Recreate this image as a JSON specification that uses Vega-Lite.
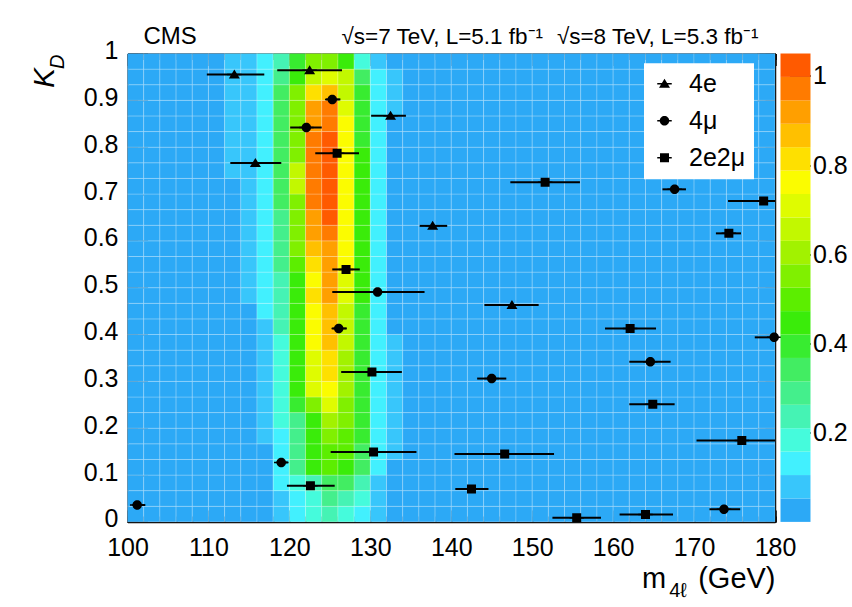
{
  "$schema": "https://vega.github.io/schema/vega-lite/v6.json",
  "padding": {"left": 28.5, "top": 24.5, "right": 0, "bottom": 0},
  "background": "white",
  "bounds": "flush",
  "spacing": 5,
  "config": {
    "font": "Liberation Sans",
    "view": {"stroke": null},
    "axis": {"grid": false, "zindex": 1, "tickColor": "black", "domainColor": "black", "labelColor": "black", "titleColor": "black", "labelFlush": false, "labelOverlap": false, "labelFontWeight": "normal", "titleFontWeight": "normal"}
  },
  "datasets": {
    "cells": [
      {"m": 100, "r": [0,1,2,3,4,5,6,7,8,9,10,11,12,13,14,15,16,17,18,19,20,21,22,23,24,25,26,27,28,29], "z": [0.03,0.03,0.03,0.03,0.03,0.03,0.03,0.03,0.03,0.03,0.03,0.03,0.03,0.03,0.03,0.03,0.03,0.03,0.03,0.03,0.03,0.03,0.03,0.03,0.03,0.03,0.03,0.03,0.03,0.03]},
      {"m": 102, "r": [0,1,2,3,4,5,6,7,8,9,10,11,12,13,14,15,16,17,18,19,20,21,22,23,24,25,26,27,28,29], "z": [0.03,0.03,0.03,0.03,0.03,0.03,0.03,0.03,0.03,0.03,0.03,0.03,0.03,0.03,0.03,0.03,0.03,0.03,0.03,0.03,0.03,0.03,0.03,0.03,0.03,0.03,0.03,0.03,0.03,0.03]},
      {"m": 104, "r": [0,1,2,3,4,5,6,7,8,9,10,11,12,13,14,15,16,17,18,19,20,21,22,23,24,25,26,27,28,29], "z": [0.03,0.03,0.03,0.03,0.03,0.03,0.03,0.03,0.03,0.03,0.03,0.03,0.03,0.03,0.03,0.03,0.03,0.03,0.03,0.03,0.03,0.03,0.03,0.03,0.03,0.03,0.03,0.03,0.03,0.03]},
      {"m": 106, "r": [0,1,2,3,4,5,6,7,8,9,10,11,12,13,14,15,16,17,18,19,20,21,22,23,24,25,26,27,28,29], "z": [0.03,0.03,0.03,0.03,0.03,0.03,0.03,0.03,0.03,0.03,0.03,0.03,0.03,0.03,0.03,0.03,0.03,0.03,0.03,0.03,0.03,0.03,0.03,0.03,0.03,0.03,0.03,0.03,0.03,0.03]},
      {"m": 108, "r": [0,1,2,3,4,5,6,7,8,9,10,11,12,13,14,15,16,17,18,19,20,21,22,23,24,25,26,27,28,29], "z": [0.03,0.03,0.03,0.03,0.03,0.03,0.03,0.03,0.03,0.03,0.03,0.03,0.03,0.03,0.03,0.03,0.03,0.03,0.03,0.03,0.03,0.03,0.03,0.03,0.03,0.03,0.03,0.03,0.03,0.03]},
      {"m": 110, "r": [0,1,2,3,4,5,6,7,8,9,10,11,12,13,14,15,16,17,18,19,20,21,22,23,24,25,26,27,28,29], "z": [0.03,0.03,0.03,0.03,0.03,0.03,0.03,0.03,0.03,0.03,0.03,0.03,0.03,0.03,0.03,0.03,0.03,0.03,0.03,0.03,0.03,0.03,0.03,0.03,0.03,0.03,0.03,0.03,0.03,0.03]},
      {"m": 112, "r": [0,1,2,3,4,5,6,7,8,9,10,11,12,13,14,15,16,17,18,19,20,21,22,23,24,25,26,27,28,29], "z": [0.03,0.03,0.03,0.03,0.03,0.03,0.03,0.03,0.03,0.03,0.03,0.03,0.03,0.03,0.03,0.03,0.03,0.03,0.03,0.03,0.03,0.03,0.08,0.08,0.08,0.08,0.08,0.08,0.08,0.08]},
      {"m": 114, "r": [0,1,2,3,4,5,6,7,8,9,10,11,12,13,14,15,16,17,18,19,20,21,22,23,24,25,26,27,28,29], "z": [0.03,0.03,0.03,0.03,0.03,0.03,0.03,0.03,0.03,0.03,0.03,0.03,0.03,0.03,0.08,0.08,0.08,0.08,0.08,0.08,0.08,0.08,0.08,0.08,0.08,0.08,0.08,0.08,0.08,0.08]},
      {"m": 116, "r": [0,1,2,3,4,5,6,7,8,9,10,11,12,13,14,15,16,17,18,19,20,21,22,23,24,25,26,27,28,29], "z": [0.03,0.03,0.03,0.03,0.03,0.08,0.08,0.08,0.08,0.08,0.08,0.08,0.08,0.13,0.13,0.13,0.13,0.13,0.13,0.13,0.13,0.13,0.13,0.13,0.13,0.13,0.13,0.13,0.13,0.13]},
      {"m": 118, "r": [0,1,2,3,4,5,6,7,8,9,10,11,12,13,14,15,16,17,18,19,20,21,22,23,24,25,26,27,28,29], "z": [0.08,0.08,0.13,0.13,0.13,0.13,0.18,0.18,0.18,0.18,0.18,0.18,0.24,0.24,0.24,0.24,0.29,0.29,0.29,0.29,0.34,0.34,0.34,0.34,0.34,0.34,0.34,0.34,0.29,0.24]},
      {"m": 120, "r": [0,1,2,3,4,5,6,7,8,9,10,11,12,13,14,15,16,17,18,19,20,21,22,23,24,25,26,27,28,29], "z": [0.13,0.13,0.18,0.29,0.29,0.29,0.29,0.39,0.45,0.45,0.45,0.45,0.45,0.45,0.45,0.45,0.5,0.55,0.55,0.55,0.55,0.66,0.66,0.55,0.55,0.55,0.55,0.55,0.45,0.39]},
      {"m": 122, "r": [0,1,2,3,4,5,6,7,8,9,10,11,12,13,14,15,16,17,18,19,20,21,22,23,24,25,26,27,28,29], "z": [0.18,0.18,0.24,0.45,0.45,0.45,0.45,0.55,0.71,0.71,0.71,0.76,0.76,0.76,0.81,0.76,0.81,0.87,0.92,0.92,0.97,0.97,0.97,0.97,0.97,0.92,0.92,0.81,0.66,0.55]},
      {"m": 124, "r": [0,1,2,3,4,5,6,7,8,9,10,11,12,13,14,15,16,17,18,19,20,21,22,23,24,25,26,27,28,29], "z": [0.24,0.29,0.34,0.5,0.5,0.55,0.6,0.71,0.76,0.81,0.81,0.87,0.87,0.87,0.92,0.92,0.92,0.92,0.97,1.02,1.02,1.02,1.02,1.02,1.02,0.97,0.97,0.87,0.71,0.55]},
      {"m": 126, "r": [0,1,2,3,4,5,6,7,8,9,10,11,12,13,14,15,16,17,18,19,20,21,22,23,24,25,26,27,28,29], "z": [0.18,0.24,0.34,0.45,0.5,0.5,0.55,0.55,0.6,0.6,0.6,0.66,0.66,0.66,0.71,0.71,0.76,0.76,0.76,0.76,0.76,0.76,0.76,0.76,0.76,0.76,0.71,0.66,0.66,0.45]},
      {"m": 128, "r": [0,1,2,3,4,5,6,7,8,9,10,11,12,13,14,15,16,17,18,19,20,21,22,23,24,25,26,27,28,29], "z": [0.13,0.18,0.24,0.34,0.34,0.39,0.39,0.39,0.39,0.39,0.39,0.39,0.39,0.39,0.45,0.45,0.45,0.45,0.45,0.45,0.45,0.45,0.45,0.45,0.39,0.39,0.39,0.39,0.34,0.18]},
      {"m": 130, "r": [0,1,2,3,4,5,6,7,8,9,10,11,12,13,14,15,16,17,18,19,20,21,22,23,24,25,26,27,28,29], "z": [0.08,0.08,0.08,0.13,0.13,0.13,0.13,0.13,0.13,0.13,0.13,0.13,0.13,0.13,0.13,0.13,0.13,0.13,0.13,0.13,0.13,0.13,0.13,0.13,0.13,0.13,0.13,0.13,0.13,0.08]},
      {"m": 132, "r": [0,1,2,3,4,5,6,7,8,9,10,11,12,13,14,15,16,17,18,19,20,21,22,23,24,25,26,27,28,29], "z": [0.03,0.03,0.03,0.03,0.08,0.08,0.08,0.08,0.08,0.08,0.08,0.08,0.03,0.03,0.03,0.03,0.03,0.03,0.03,0.03,0.03,0.03,0.03,0.03,0.03,0.03,0.08,0.08,0.08,0.03]},
      {"m": 134, "r": [0,1,2,3,4,5,6,7,8,9,10,11,12,13,14,15,16,17,18,19,20,21,22,23,24,25,26,27,28,29], "z": [0.03,0.03,0.03,0.03,0.03,0.03,0.03,0.03,0.03,0.03,0.03,0.03,0.03,0.03,0.03,0.03,0.03,0.03,0.03,0.03,0.03,0.03,0.03,0.03,0.03,0.03,0.03,0.03,0.03,0.03]},
      {"m": 136, "r": [0,1,2,3,4,5,6,7,8,9,10,11,12,13,14,15,16,17,18,19,20,21,22,23,24,25,26,27,28,29], "z": [0.03,0.03,0.03,0.03,0.03,0.03,0.03,0.03,0.03,0.03,0.03,0.03,0.03,0.03,0.03,0.03,0.03,0.03,0.03,0.03,0.03,0.03,0.03,0.03,0.03,0.03,0.03,0.03,0.03,0.03]},
      {"m": 138, "r": [0,1,2,3,4,5,6,7,8,9,10,11,12,13,14,15,16,17,18,19,20,21,22,23,24,25,26,27,28,29], "z": [0.03,0.03,0.03,0.03,0.03,0.03,0.03,0.03,0.03,0.03,0.03,0.03,0.03,0.03,0.03,0.03,0.03,0.03,0.03,0.03,0.03,0.03,0.03,0.03,0.03,0.03,0.03,0.03,0.03,0.03]},
      {"m": 140, "r": [0,1,2,3,4,5,6,7,8,9,10,11,12,13,14,15,16,17,18,19,20,21,22,23,24,25,26,27,28,29], "z": [0.03,0.03,0.03,0.03,0.03,0.03,0.03,0.03,0.03,0.03,0.03,0.03,0.03,0.03,0.03,0.03,0.03,0.03,0.03,0.03,0.03,0.03,0.03,0.03,0.03,0.03,0.03,0.03,0.03,0.03]},
      {"m": 142, "r": [0,1,2,3,4,5,6,7,8,9,10,11,12,13,14,15,16,17,18,19,20,21,22,23,24,25,26,27,28,29], "z": [0.03,0.03,0.03,0.03,0.03,0.03,0.03,0.03,0.03,0.03,0.03,0.03,0.03,0.03,0.03,0.03,0.03,0.03,0.03,0.03,0.03,0.03,0.03,0.03,0.03,0.03,0.03,0.03,0.03,0.03]},
      {"m": 144, "r": [0,1,2,3,4,5,6,7,8,9,10,11,12,13,14,15,16,17,18,19,20,21,22,23,24,25,26,27,28,29], "z": [0.03,0.03,0.03,0.03,0.03,0.03,0.03,0.03,0.03,0.03,0.03,0.03,0.03,0.03,0.03,0.03,0.03,0.03,0.03,0.03,0.03,0.03,0.03,0.03,0.03,0.03,0.03,0.03,0.03,0.03]},
      {"m": 146, "r": [0,1,2,3,4,5,6,7,8,9,10,11,12,13,14,15,16,17,18,19,20,21,22,23,24,25,26,27,28,29], "z": [0.03,0.03,0.03,0.03,0.03,0.03,0.03,0.03,0.03,0.03,0.03,0.03,0.03,0.03,0.03,0.03,0.03,0.03,0.03,0.03,0.03,0.03,0.03,0.03,0.03,0.03,0.03,0.03,0.03,0.03]},
      {"m": 148, "r": [0,1,2,3,4,5,6,7,8,9,10,11,12,13,14,15,16,17,18,19,20,21,22,23,24,25,26,27,28,29], "z": [0.03,0.03,0.03,0.03,0.03,0.03,0.03,0.03,0.03,0.03,0.03,0.03,0.03,0.03,0.03,0.03,0.03,0.03,0.03,0.03,0.03,0.03,0.03,0.03,0.03,0.03,0.03,0.03,0.03,0.03]},
      {"m": 150, "r": [0,1,2,3,4,5,6,7,8,9,10,11,12,13,14,15,16,17,18,19,20,21,22,23,24,25,26,27,28,29], "z": [0.03,0.03,0.03,0.03,0.03,0.03,0.03,0.03,0.03,0.03,0.03,0.03,0.03,0.03,0.03,0.03,0.03,0.03,0.03,0.03,0.03,0.03,0.03,0.03,0.03,0.03,0.03,0.03,0.03,0.03]},
      {"m": 152, "r": [0,1,2,3,4,5,6,7,8,9,10,11,12,13,14,15,16,17,18,19,20,21,22,23,24,25,26,27,28,29], "z": [0.03,0.03,0.03,0.03,0.03,0.03,0.03,0.03,0.03,0.03,0.03,0.03,0.03,0.03,0.03,0.03,0.03,0.03,0.03,0.03,0.03,0.03,0.03,0.03,0.03,0.03,0.03,0.03,0.03,0.03]},
      {"m": 154, "r": [0,1,2,3,4,5,6,7,8,9,10,11,12,13,14,15,16,17,18,19,20,21,22,23,24,25,26,27,28,29], "z": [0.03,0.03,0.03,0.03,0.03,0.03,0.03,0.03,0.03,0.03,0.03,0.03,0.03,0.03,0.03,0.03,0.03,0.03,0.03,0.03,0.03,0.03,0.03,0.03,0.03,0.03,0.03,0.03,0.03,0.03]},
      {"m": 156, "r": [0,1,2,3,4,5,6,7,8,9,10,11,12,13,14,15,16,17,18,19,20,21,22,23,24,25,26,27,28,29], "z": [0.03,0.03,0.03,0.03,0.03,0.03,0.03,0.03,0.03,0.03,0.03,0.03,0.03,0.03,0.03,0.03,0.03,0.03,0.03,0.03,0.03,0.03,0.03,0.03,0.03,0.03,0.03,0.03,0.03,0.03]},
      {"m": 158, "r": [0,1,2,3,4,5,6,7,8,9,10,11,12,13,14,15,16,17,18,19,20,21,22,23,24,25,26,27,28,29], "z": [0.03,0.03,0.03,0.03,0.03,0.03,0.03,0.03,0.03,0.03,0.03,0.03,0.03,0.03,0.03,0.03,0.03,0.03,0.03,0.03,0.03,0.03,0.03,0.03,0.03,0.03,0.03,0.03,0.03,0.03]},
      {"m": 160, "r": [0,1,2,3,4,5,6,7,8,9,10,11,12,13,14,15,16,17,18,19,20,21,22,23,24,25,26,27,28,29], "z": [0.03,0.03,0.03,0.03,0.03,0.03,0.03,0.03,0.03,0.03,0.03,0.03,0.03,0.03,0.03,0.03,0.03,0.03,0.03,0.03,0.03,0.03,0.03,0.03,0.03,0.03,0.03,0.03,0.03,0.03]},
      {"m": 162, "r": [0,1,2,3,4,5,6,7,8,9,10,11,12,13,14,15,16,17,18,19,20,21,22,23,24,25,26,27,28,29], "z": [0.03,0.03,0.03,0.03,0.03,0.03,0.03,0.03,0.03,0.03,0.03,0.03,0.03,0.03,0.03,0.03,0.03,0.03,0.03,0.03,0.03,0.03,0.03,0.03,0.03,0.03,0.03,0.03,0.03,0.03]},
      {"m": 164, "r": [0,1,2,3,4,5,6,7,8,9,10,11,12,13,14,15,16,17,18,19,20,21,22,23,24,25,26,27,28,29], "z": [0.03,0.03,0.03,0.03,0.03,0.03,0.03,0.03,0.03,0.03,0.03,0.03,0.03,0.03,0.03,0.03,0.03,0.03,0.03,0.03,0.03,0.03,0.03,0.03,0.03,0.03,0.03,0.03,0.03,0.03]},
      {"m": 166, "r": [0,1,2,3,4,5,6,7,8,9,10,11,12,13,14,15,16,17,18,19,20,21,22,23,24,25,26,27,28,29], "z": [0.03,0.03,0.03,0.03,0.03,0.03,0.03,0.03,0.03,0.03,0.03,0.03,0.03,0.03,0.03,0.03,0.03,0.03,0.03,0.03,0.03,0.03,0.03,0.03,0.03,0.03,0.03,0.03,0.03,0.03]},
      {"m": 168, "r": [0,1,2,3,4,5,6,7,8,9,10,11,12,13,14,15,16,17,18,19,20,21,22,23,24,25,26,27,28,29], "z": [0.03,0.03,0.03,0.03,0.03,0.03,0.03,0.03,0.03,0.03,0.03,0.03,0.03,0.03,0.03,0.03,0.03,0.03,0.03,0.03,0.03,0.03,0.03,0.03,0.03,0.03,0.03,0.03,0.03,0.03]},
      {"m": 170, "r": [0,1,2,3,4,5,6,7,8,9,10,11,12,13,14,15,16,17,18,19,20,21,22,23,24,25,26,27,28,29], "z": [0.03,0.03,0.03,0.03,0.03,0.03,0.03,0.03,0.03,0.03,0.03,0.03,0.03,0.03,0.03,0.03,0.03,0.03,0.03,0.03,0.03,0.03,0.03,0.03,0.03,0.03,0.03,0.03,0.03,0.03]},
      {"m": 172, "r": [0,1,2,3,4,5,6,7,8,9,10,11,12,13,14,15,16,17,18,19,20,21,22,23,24,25,26,27,28,29], "z": [0.03,0.03,0.03,0.03,0.03,0.03,0.03,0.03,0.03,0.03,0.03,0.03,0.03,0.03,0.03,0.03,0.03,0.03,0.03,0.03,0.03,0.03,0.03,0.03,0.03,0.03,0.03,0.03,0.03,0.03]},
      {"m": 174, "r": [0,1,2,3,4,5,6,7,8,9,10,11,12,13,14,15,16,17,18,19,20,21,22,23,24,25,26,27,28,29], "z": [0.03,0.03,0.03,0.03,0.03,0.03,0.03,0.03,0.03,0.03,0.03,0.03,0.03,0.03,0.03,0.03,0.03,0.03,0.03,0.03,0.03,0.03,0.03,0.03,0.03,0.03,0.03,0.03,0.03,0.03]},
      {"m": 176, "r": [0,1,2,3,4,5,6,7,8,9,10,11,12,13,14,15,16,17,18,19,20,21,22,23,24,25,26,27,28,29], "z": [0.03,0.03,0.03,0.03,0.03,0.03,0.03,0.03,0.03,0.03,0.03,0.03,0.03,0.03,0.03,0.03,0.03,0.03,0.03,0.03,0.03,0.03,0.03,0.03,0.03,0.03,0.03,0.03,0.03,0.03]},
      {"m": 178, "r": [0,1,2,3,4,5,6,7,8,9,10,11,12,13,14,15,16,17,18,19,20,21,22,23,24,25,26,27,28,29], "z": [0.03,0.03,0.03,0.03,0.03,0.03,0.03,0.03,0.03,0.03,0.03,0.03,0.03,0.03,0.03,0.03,0.03,0.03,0.03,0.03,0.03,0.03,0.03,0.03,0.03,0.03,0.03,0.03,0.03,0.03]}
    ],
    "ev": [
      {"ch": "4e", "m": 113.2, "lo": 109.8, "hi": 116.9, "kd": 0.955},
      {"ch": "4e", "m": 122.5, "lo": 118.5, "hi": 126.5, "kd": 0.964},
      {"ch": "4e", "m": 132.5, "lo": 130.1, "hi": 134.4, "kd": 0.867},
      {"ch": "4e", "m": 115.8, "lo": 112.7, "hi": 119.0, "kd": 0.766},
      {"ch": "4e", "m": 137.7, "lo": 136.1, "hi": 139.5, "kd": 0.632},
      {"ch": "4e", "m": 147.5, "lo": 144.1, "hi": 150.8, "kd": 0.463},
      {"ch": "4μ", "m": 125.3, "lo": 124.5, "hi": 126.3, "kd": 0.902},
      {"ch": "4μ", "m": 122.1, "lo": 120.1, "hi": 124.0, "kd": 0.842},
      {"ch": "4μ", "m": 130.9, "lo": 125.3, "hi": 136.7, "kd": 0.491},
      {"ch": "4μ", "m": 126.1, "lo": 125.3, "hi": 127.1, "kd": 0.413},
      {"ch": "4μ", "m": 119.0, "lo": 118.4, "hi": 119.8, "kd": 0.127},
      {"ch": "4μ", "m": 101.2, "lo": 100.6, "hi": 102.2, "kd": 0.036},
      {"ch": "4μ", "m": 145.0, "lo": 143.2, "hi": 146.8, "kd": 0.306},
      {"ch": "4μ", "m": 164.6, "lo": 162.0, "hi": 167.1, "kd": 0.342},
      {"ch": "4μ", "m": 179.9, "lo": 177.5, "hi": 180.0, "kd": 0.394},
      {"ch": "4μ", "m": 167.6, "lo": 166.1, "hi": 169.0, "kd": 0.710},
      {"ch": "4μ", "m": 173.7, "lo": 171.9, "hi": 175.7, "kd": 0.027},
      {"ch": "2e2μ", "m": 125.9, "lo": 123.2, "hi": 128.6, "kd": 0.787},
      {"ch": "2e2μ", "m": 127.0, "lo": 125.3, "hi": 128.7, "kd": 0.539},
      {"ch": "2e2μ", "m": 130.2, "lo": 126.4, "hi": 133.9, "kd": 0.320},
      {"ch": "2e2μ", "m": 130.4, "lo": 125.1, "hi": 135.7, "kd": 0.149},
      {"ch": "2e2μ", "m": 122.6, "lo": 119.7, "hi": 125.6, "kd": 0.077},
      {"ch": "2e2μ", "m": 151.6, "lo": 147.3, "hi": 155.9, "kd": 0.725},
      {"ch": "2e2μ", "m": 178.6, "lo": 174.2, "hi": 180.0, "kd": 0.685},
      {"ch": "2e2μ", "m": 174.3, "lo": 172.7, "hi": 175.8, "kd": 0.616},
      {"ch": "2e2μ", "m": 162.1, "lo": 159.0, "hi": 165.3, "kd": 0.413},
      {"ch": "2e2μ", "m": 164.9, "lo": 162.0, "hi": 167.6, "kd": 0.251},
      {"ch": "2e2μ", "m": 175.9, "lo": 170.3, "hi": 180.0, "kd": 0.174},
      {"ch": "2e2μ", "m": 146.6, "lo": 140.4, "hi": 152.7, "kd": 0.145},
      {"ch": "2e2μ", "m": 142.5, "lo": 140.5, "hi": 144.6, "kd": 0.070},
      {"ch": "2e2μ", "m": 155.5, "lo": 152.5, "hi": 158.5, "kd": 0.009},
      {"ch": "2e2μ", "m": 164.0, "lo": 160.8, "hi": 167.4, "kd": 0.016}
    ],
    "cbar": [
      {"lo": 0, "hi": 0.0525, "z": 0.03},
      {"lo": 0.0525, "hi": 0.105, "z": 0.08},
      {"lo": 0.105, "hi": 0.1575, "z": 0.13},
      {"lo": 0.1575, "hi": 0.21, "z": 0.18},
      {"lo": 0.21, "hi": 0.2625, "z": 0.24},
      {"lo": 0.2625, "hi": 0.315, "z": 0.29},
      {"lo": 0.315, "hi": 0.3675, "z": 0.34},
      {"lo": 0.3675, "hi": 0.42, "z": 0.39},
      {"lo": 0.42, "hi": 0.4725, "z": 0.45},
      {"lo": 0.4725, "hi": 0.525, "z": 0.5},
      {"lo": 0.525, "hi": 0.5775, "z": 0.55},
      {"lo": 0.5775, "hi": 0.63, "z": 0.6},
      {"lo": 0.63, "hi": 0.6825, "z": 0.66},
      {"lo": 0.6825, "hi": 0.735, "z": 0.71},
      {"lo": 0.735, "hi": 0.7875, "z": 0.76},
      {"lo": 0.7875, "hi": 0.84, "z": 0.81},
      {"lo": 0.84, "hi": 0.8925, "z": 0.87},
      {"lo": 0.8925, "hi": 0.945, "z": 0.92},
      {"lo": 0.945, "hi": 0.9975, "z": 0.97},
      {"lo": 0.9975, "hi": 1.05, "z": 1.02}
    ]
  },
  "hconcat": [
    {
      "width": 647.5,
      "height": 468.4,
      "resolve": {"scale": {"x": "independent", "y": "independent"}},
      "layer": [
        {
          "data": {"name": "cells"},
          "transform": [{"flatten": ["r", "z"]}],
          "mark": {"type": "rect", "stroke": "#ffffff", "strokeOpacity": 0.22, "strokeWidth": 1},
          "encoding": {
            "x": {"field": "m", "type": "ordinal", "scale": {"paddingInner": 0, "paddingOuter": 0},
                  "axis": {"orient": "bottom", "ticks": false, "labels": false, "domain": false, "title": "(GeV)", "titleX": 647.5, "titleY": 66, "titleAlign": "right", "titleBaseline": "alphabetic", "titleFontSize": 29, "titleAngle": 0}},
            "y": {"field": "r", "type": "ordinal", "sort": "descending", "scale": {"paddingInner": 0, "paddingOuter": 0},
                  "axis": {"orient": "left", "ticks": false, "labels": false, "domain": false, "title": "√s=7 TeV, L=5.1 fb⁻¹", "titleX": 213.5, "titleY": -10, "titleAngle": 0, "titleAlign": "left", "titleBaseline": "alphabetic", "titleFontSize": 22.5}},
            "color": {"field": "z", "type": "quantitative",
                      "scale": {"type": "quantize", "domain": [0, 1.05], "range": ["#2ca9f6","#38c6fb","#42f0fe","#45fbdc","#45f3b4","#44ef8c","#42ed62","#38ec30","#3aec0a","#5cee00","#80f000","#a2f200","#c2f800","#dffc00","#fbfc00","#fee000","#ffc000","#ff9f00","#ff7b00","#ff5a00"]},
                      "legend": null}
          }
        },
        {
          "data": {"name": "ev"},
          "mark": {"type": "rule", "color": "black", "strokeWidth": 2},
          "encoding": {
            "x": {"field": "lo", "type": "quantitative", "scale": {"domain": [100, 180], "nice": false, "zero": false},
                  "axis": {"orient": "top", "values": [100,110,120,130,140,150,160,170,180], "tickSize": -12, "tickWidth": 1.5, "labels": false, "domain": true, "domainWidth": 1.5, "title": "CMS", "titleX": 15.5, "titleY": -10, "titleAlign": "left", "titleBaseline": "alphabetic", "titleFontSize": 24, "titleAngle": 0}},
            "x2": {"field": "hi"},
            "y": {"field": "kd", "type": "quantitative", "scale": {"domain": [0, 1], "nice": false, "zero": false},
                  "axis": {"orient": "right", "values": [0,0.1,0.2,0.3,0.4,0.5,0.6,0.7,0.8,0.9,1], "tickSize": -18, "tickWidth": 1.5, "labels": false, "domain": true, "domainWidth": 1.5, "title": null}}
          }
        },
        {
          "data": {"name": "ev"},
          "mark": {"type": "point", "filled": true, "opacity": 1, "size": 100, "color": "black"},
          "encoding": {
            "x": {"field": "m", "type": "quantitative", "scale": {"domain": [100, 180], "nice": false, "zero": false},
                  "axis": {"orient": "bottom", "values": [100,110,120,130,140,150,160,170,180], "tickSize": -12, "tickWidth": 1.5, "labelFontSize": 25, "labelPadding": 26, "domain": true, "domainWidth": 1.5, "title": "m", "titleX": 526, "titleY": 66, "titleAlign": "center", "titleBaseline": "alphabetic", "titleFontSize": 29, "titleAngle": 0}},
            "y": {"field": "kd", "type": "quantitative", "scale": {"domain": [0, 1], "nice": false, "zero": false},
                  "axis": {"orient": "left", "values": [0,0.1,0.2,0.3,0.4,0.5,0.6,0.7,0.8,0.9,1], "format": "~g", "tickSize": -20, "tickWidth": 1.5, "labelFontSize": 25, "labelPadding": 29.5, "labelOffset": -3, "domain": true, "domainWidth": 1.5, "title": "K", "titleX": -83.5, "titleY": 24, "titleAngle": -90, "titleAlign": "center", "titleBaseline": "middle", "titleFontSize": 30, "titleFontStyle": "italic"}},
            "shape": {"field": "ch", "type": "nominal",
                      "scale": {"domain": ["4e", "4μ", "2e2μ"], "range": ["M-1.45,-0.15H1.45V0.15H-1.45ZM0,-1L1.1,0.8H-1.1Z", "M-1.45,-0.15H1.45V0.15H-1.45ZM0.95,0A0.95,0.95,0,1,1,-0.95,0A0.95,0.95,0,1,1,0.95,0Z", "M-1.45,-0.15H1.45V0.15H-1.45ZM-0.9,-0.9H0.9V0.9H-0.9Z"]},
                      "legend": {"orient": "none", "legendX": 516.5, "legendY": 9.7, "title": null, "fillColor": "white", "padding": 8, "labelFontSize": 25, "labelOffset": 12, "rowPadding": 11, "symbolSize": 100, "symbolFillColor": "black", "symbolStrokeColor": "black", "symbolStrokeWidth": 0, "symbolOpacity": 1, "labelColor": "black"}}
          }
        },
        {
          "data": {"name": "ev"},
          "mark": {"type": "point", "opacity": 0},
          "encoding": {
            "x": {"field": "m", "type": "quantitative", "scale": {"domain": [100, 180], "nice": false, "zero": false},
                  "axis": {"orient": "bottom", "values": [100,102,104,106,108,110,112,114,116,118,120,122,124,126,128,130,132,134,136,138,140,142,144,146,148,150,152,154,156,158,160,162,164,166,168,170,172,174,176,178,180], "tickSize": -6, "tickWidth": 1.5, "labels": false, "domain": false, "title": "4ℓ", "titleX": 550, "titleY": 75, "titleAlign": "center", "titleBaseline": "alphabetic", "titleFontSize": 20, "titleAngle": 0}},
            "y": {"field": "kd", "type": "quantitative", "scale": {"domain": [0, 1], "nice": false, "zero": false},
                  "axis": {"orient": "left", "values": [0,0.02,0.04,0.06,0.08,0.1,0.12,0.14,0.16,0.18,0.2,0.22,0.24,0.26,0.28,0.3,0.32,0.34,0.36,0.38,0.4,0.42,0.44,0.46,0.48,0.5,0.52,0.54,0.56,0.58,0.6,0.62,0.64,0.66,0.68,0.7,0.72,0.74,0.76,0.78,0.8,0.82,0.84,0.86,0.88,0.9,0.92,0.94,0.96,0.98,1], "tickSize": -10, "tickWidth": 1.5, "labels": false, "domain": false, "title": "D", "titleX": -70, "titleY": 7.7, "titleAngle": -90, "titleAlign": "center", "titleBaseline": "middle", "titleFontSize": 20, "titleFontStyle": "italic"}}
          }
        },
        {
          "data": {"name": "ev"},
          "mark": {"type": "point", "opacity": 0},
          "encoding": {
            "x": {"field": "m", "type": "quantitative", "scale": {"domain": [100, 180], "nice": false, "zero": false},
                  "axis": {"orient": "top", "values": [100,102,104,106,108,110,112,114,116,118,120,122,124,126,128,130,132,134,136,138,140,142,144,146,148,150,152,154,156,158,160,162,164,166,168,170,172,174,176,178,180], "tickSize": -6, "tickWidth": 1.5, "labels": false, "domain": false, "title": "√s=8 TeV, L=5.3 fb⁻¹", "titleX": 630.5, "titleY": -10, "titleAlign": "right", "titleBaseline": "alphabetic", "titleFontSize": 22.5, "titleAngle": 0}},
            "y": {"field": "kd", "type": "quantitative", "scale": {"domain": [0, 1], "nice": false, "zero": false},
                  "axis": {"orient": "right", "values": [0,0.02,0.04,0.06,0.08,0.1,0.12,0.14,0.16,0.18,0.2,0.22,0.24,0.26,0.28,0.3,0.32,0.34,0.36,0.38,0.4,0.42,0.44,0.46,0.48,0.5,0.52,0.54,0.56,0.58,0.6,0.62,0.64,0.66,0.68,0.7,0.72,0.74,0.76,0.78,0.8,0.82,0.84,0.86,0.88,0.9,0.92,0.94,0.96,0.98,1], "tickSize": -10, "tickWidth": 1.5, "labels": false, "domain": false, "title": null}}
          }
        }
      ]
    },
    {
      "width": 30,
      "height": 468.4,
      "data": {"name": "cbar"},
      "mark": {"type": "rect"},
      "encoding": {
        "y": {"field": "lo", "type": "quantitative", "scale": {"domain": [0, 1.05], "nice": false, "zero": false},
              "axis": {"orient": "right", "values": [0.2, 0.4, 0.6, 0.8, 1], "format": "~g", "tickSize": -21, "tickWidth": 1.2, "labelFontSize": 25, "labelPadding": 23, "domain": false, "title": null}},
        "y2": {"field": "hi"},
        "color": {"field": "z", "type": "quantitative",
                  "scale": {"type": "quantize", "domain": [0, 1.05], "range": ["#2ca9f6","#38c6fb","#42f0fe","#45fbdc","#45f3b4","#44ef8c","#42ed62","#38ec30","#3aec0a","#5cee00","#80f000","#a2f200","#c2f800","#dffc00","#fbfc00","#fee000","#ffc000","#ff9f00","#ff7b00","#ff5a00"]},
                  "legend": null}
      }
    }
  ]
}
